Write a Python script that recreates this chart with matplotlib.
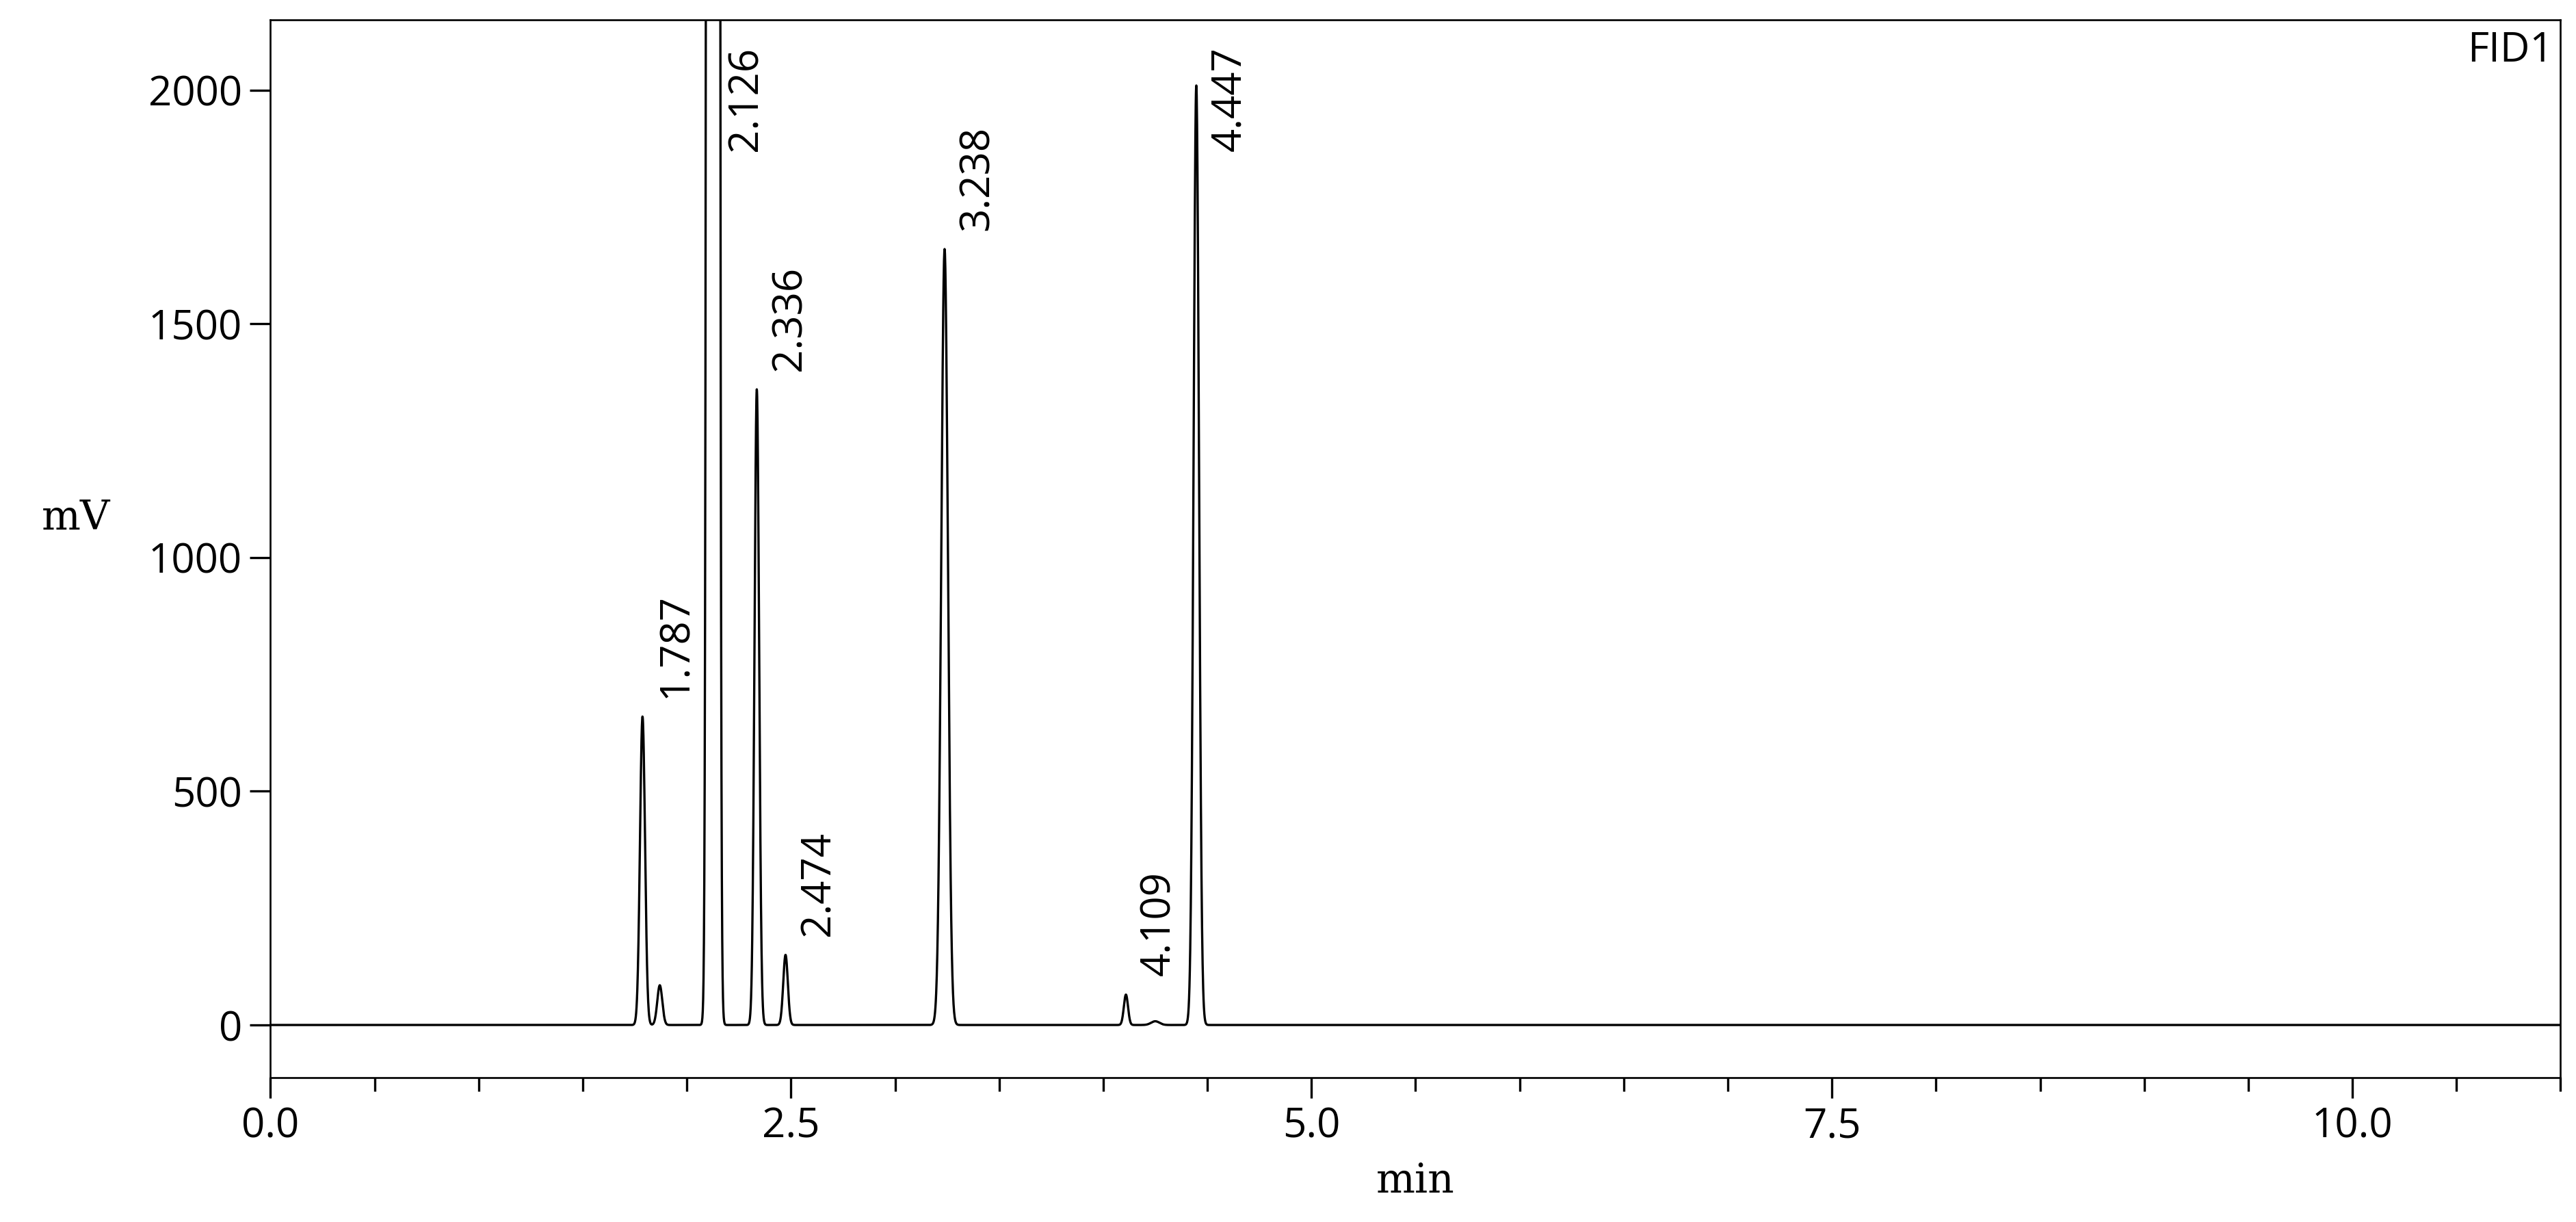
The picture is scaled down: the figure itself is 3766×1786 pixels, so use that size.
import numpy as np
import matplotlib.pyplot as plt
from matplotlib.ticker import MultipleLocator

# peak table: retention time (min), height (mV), sigma (min)
peak_times = [1.787, 1.87, 2.126, 2.336, 2.474, 3.238, 4.109, 4.25, 4.447]
peak_heights = [660, 85, 150000, 1360, 150, 1660, 65, 8, 2010]
peak_widths = [0.012, 0.012, 0.012, 0.011, 0.011, 0.016, 0.010, 0.02, 0.013]
labelled = ["1.787", None, "2.126", "2.336", "2.474", "3.238", "4.109", None, "4.447"]

t = np.linspace(0, 11, 12000)
signal = np.zeros_like(t)
for rt, h, w in zip(peak_times, peak_heights, peak_widths):
    signal += h * np.exp(-0.5 * ((t - rt) / w) ** 2)

fig = plt.figure(figsize=(3766 / 240, 1786 / 240), dpi=240)
ax = fig.add_axes([0.105, 0.118, 0.889, 0.866])
ax.plot(t, signal, color="black", lw=1.0)
ax.set_xlim(0, 11.0)
ax.set_ylim(-113, 2151)

ax.xaxis.set_major_locator(MultipleLocator(2.5))
ax.xaxis.set_minor_locator(MultipleLocator(0.5))
ax.yaxis.set_major_locator(MultipleLocator(500))
ax.tick_params(which="major", length=9, width=1, labelsize=18)
ax.tick_params(which="minor", length=6, width=1)
ax.xaxis.set_major_formatter(plt.FuncFormatter(lambda v, p: f"{v:.1f}"))
for lab in ax.get_xticklabels() + ax.get_yticklabels():
    lab.set_family("Open Sans")

for rt, h, name in zip(peak_times, peak_heights, labelled):
    if name is None:
        continue
    y = min(h, 1830) + 40
    ax.text(rt + 0.06, y, name, rotation=90, ha="left", va="bottom",
            fontsize=18, family="Open Sans", clip_on=True)

ax.text(0.997, 0.99, "FID1", transform=ax.transAxes, ha="right", va="top",
        fontsize=18, family="Open Sans")
ax.set_xlabel("min", family="DejaVu Serif", fontsize=18, labelpad=6)
ax.set_ylabel("mV", family="DejaVu Serif", fontsize=18, rotation=0)
ax.yaxis.set_label_coords(-0.085, 0.51)

fig.savefig("out.png", dpi=240)
